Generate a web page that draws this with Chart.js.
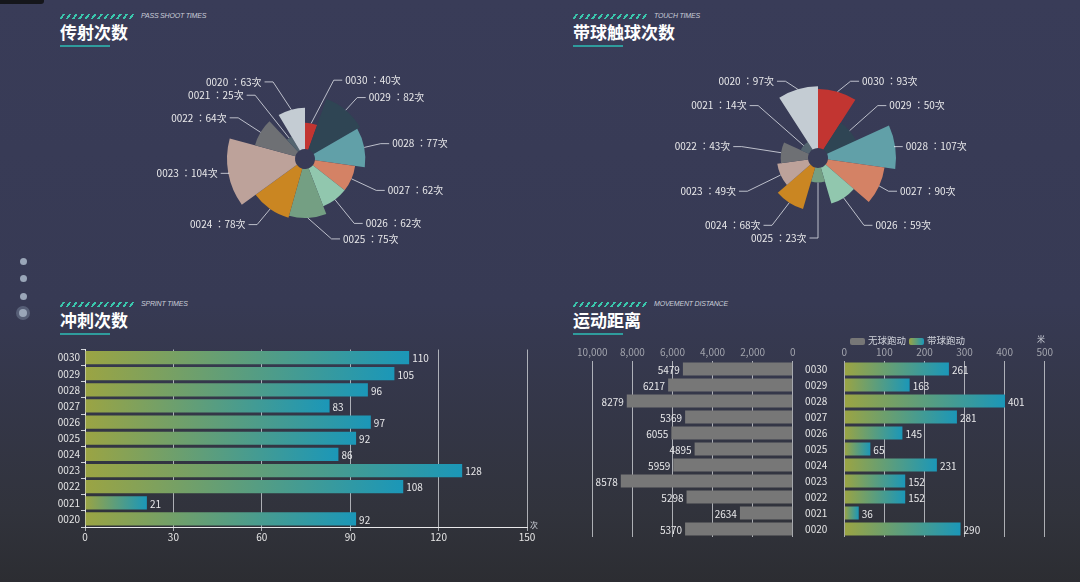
<!DOCTYPE html>
<html>
<head>
<meta charset="utf-8">
<script src="https://cdn.jsdelivr.net/npm/chart.js@4.4.1/dist/chart.umd.min.js"></script>
<style>
  html, body { margin: 0; padding: 0; }
  body {
    width: 1080px; height: 582px; overflow: hidden; position: relative;
    background: linear-gradient(to bottom, #393c58 0%, #373a54 52%, #31333c 88%, #2c2d32 100%);
    font-family: "Noto Sans CJK SC", "Noto Sans", sans-serif;
  }
  canvas { position: absolute; }
  .corner { position: absolute; left: 0; top: 0; width: 44px; height: 4px; background: #15161b; border-bottom-right-radius: 3px; }
  .head { position: absolute; width: 220px; height: 40px; }
  .stripes {
    position: absolute; left: 1px; top: 0; width: 75px; height: 5px; transform: skewX(-35deg);
    background: repeating-linear-gradient(90deg, #3ac6ac 0 2.4px, transparent 2.4px 6.3px);
  }
  .en { position: absolute; left: 81px; top: -4px; font: italic 7px "Liberation Sans", sans-serif; color: #c9cdd8; line-height: 12px; white-space: nowrap; letter-spacing: -0.2px; }
  .title { position: absolute; left: 0; top: 8px; font-weight: bold; font-size: 17px; line-height: 20px; color: #fff; white-space: nowrap; }
  .uline { position: absolute; left: 0; top: 31px; width: 50px; height: 1.5px; background: #2f9c9d; }
  .dot { position: absolute; width: 7px; height: 7px; border-radius: 50%; background: #9aa6b8; }
  .dot.on { width: 8px; height: 8px; box-shadow: 0 0 0 3px rgba(150,165,185,0.35); }
  .legend { position: absolute; top: 333px; font-size: 9.5px; line-height: 14px; color: #cfd2da; white-space: nowrap; }
  .legend i { display: inline-block; width: 15px; height: 7px; border-radius: 2px; vertical-align: -0.5px; margin-right: 3px; }
  .unit { position: absolute; font-size: 8px; line-height: 10px; color: #cfd2da; }
</style>
</head>
<body>
<div class="corner"></div>

<div class="head" style="left:60px;top:14px"><div class="stripes"></div><div class="en">PASS SHOOT TIMES</div><div class="title">传射次数</div><div class="uline"></div></div>
<div class="head" style="left:573px;top:14px"><div class="stripes"></div><div class="en">TOUCH TIMES</div><div class="title">带球触球次数</div><div class="uline"></div></div>
<div class="head" style="left:60px;top:302px"><div class="stripes"></div><div class="en">SPRINT TIMES</div><div class="title">冲刺次数</div><div class="uline"></div></div>
<div class="head" style="left:573px;top:302px"><div class="stripes"></div><div class="en">MOVEMENT DISTANCE</div><div class="title">运动距离</div><div class="uline"></div></div>

<div class="dot" style="left:20px;top:258px"></div>
<div class="dot" style="left:20px;top:275px"></div>
<div class="dot" style="left:20px;top:293px"></div>
<div class="dot on" style="left:19px;top:309px"></div>

<canvas id="passShoot" width="400" height="200" style="left:105px;top:59px"></canvas>
<canvas id="touch" width="400" height="200" style="left:618px;top:58px"></canvas>
<canvas id="sprint" width="510" height="210" style="left:40px;top:340px"></canvas>
<canvas id="runFree" width="240" height="215" style="left:560px;top:330px"></canvas>
<canvas id="runBall" width="270" height="215" style="left:800px;top:330px"></canvas>

<div class="legend" style="left:850px"><i style="background:#777777"></i>无球跑动</div>
<div class="legend" style="left:909px"><i style="background:linear-gradient(90deg,#9ba443,#1b97b8)"></i>带球跑动</div>
<div class="unit" style="left:1037px;top:334px">米</div>
<div class="unit" style="left:530px;top:520px">次</div>

<script>
// 球员号码（上から下、玫瑰图は時計回り）
const players = ['0030', '0029', '0028', '0027', '0026', '0025', '0024', '0023', '0022', '0021', '0020'];

const passShootTimes = [40, 82, 77, 62, 62, 75, 78, 104, 64, 25, 63];
const touchTimes = [93, 50, 107, 90, 59, 23, 68, 49, 43, 14, 97];
const sprintTimes = [110, 105, 96, 83, 97, 92, 86, 128, 108, 21, 92];
const freeRunDistance = [5479, 6217, 8279, 5369, 6055, 4895, 5959, 8578, 5298, 2634, 5370];
const ballRunDistance = [261, 163, 401, 281, 145, 65, 231, 152, 152, 36, 290];

const sprintTicks = { min: 0, max: 150, step: 30 };
const freeRunTicks = { min: 0, max: 10000, step: 2000 };
const ballRunTicks = { min: 0, max: 500, step: 100 };

const roseColors = ['#c23531', '#2f4554', '#61a0a8', '#d48265', '#91c7ae', '#749f83',
  '#ca8622', '#bda29a', '#6e7074', '#546570', '#c4ccd3'];

const OLIVE = '#9ba443';
const TEAL = '#1b97b8';
const GRID = 'rgba(215,217,222,0.75)';
const ROSE_R = 78;     // 玫瑰图の外半径
const ROSE_HOLE = 10;  // 中心の穴
const LINE1 = 2, LINE2 = 8.5, GAP = 3;

Chart.defaults.font.family = '"Noto Sans CJK SC", "Noto Sans", sans-serif';
Chart.defaults.font.size = 10;
Chart.defaults.color = '#e4e4e4';

// 半径を値に比例させる（ドーナツ）／穴をあける（polarArea）
const rosePlugin = {
  id: 'rose',
  afterDatasetsUpdate(chart) {
    const meta = chart.getDatasetMeta(0);
    const values = chart.data.datasets[0].data;
    const max = Math.max(...values);
    meta.data.forEach((arc, i) => {
      if (chart.config.type === 'doughnut') {
        const R = meta.controller.outerRadius;
        arc.outerRadius = arc.innerRadius + (R - arc.innerRadius) * values[i] / max;
      } else {
        arc.innerRadius = ROSE_HOLE;
      }
    });
  }
};

// 引き出し線つきラベル
const roseLabels = {
  id: 'roseLabels',
  afterDatasetsDraw(chart) {
    const meta = chart.getDatasetMeta(0);
    const values = chart.data.datasets[0].data;
    const names = chart.data.labels;
    const R = chart.config.type === 'doughnut' ? meta.controller.outerRadius : chart.scales.r.drawingArea;
    const L = R + LINE1;
    const D = L + LINE2;
    const c = chart.ctx;
    c.save();
    c.font = '10px "Noto Sans CJK TC"';
    c.textBaseline = 'middle';
    c.strokeStyle = 'rgba(222,225,232,0.8)';
    c.fillStyle = '#e8e8ea';
    c.lineWidth = 1;
    meta.data.forEach((arc, i) => {
      const mid = (arc.startAngle + arc.endAngle) / 2;
      const dx = Math.cos(mid), dy = Math.sin(mid);
      const side = dx > 1e-3 ? 1 : -1;
      const cx = arc.x, cy = arc.y;
      const y = cy + dy * L;
      const off = Math.abs(y - cy);
      const delta = off < L ? Math.sqrt(D * D - off * off) : Math.abs(dx * L + side * (LINE2 + GAP));
      const tx = cx + side * delta;
      const p2 = tx - side * GAP;
      const p1 = p2 - side * LINE2;
      c.beginPath();
      c.moveTo(cx + dx * arc.outerRadius, cy + dy * arc.outerRadius);
      c.lineTo(p1, y);
      c.lineTo(p2, y);
      c.stroke();
      c.textAlign = side > 0 ? 'left' : 'right';
      c.fillText(names[i] + ' ：' + values[i] + '次', tx, y);
    });
    c.restore();
  }
};

// 棒の先に数値
const barValues = {
  id: 'barValues',
  afterDatasetsDraw(chart) {
    const c = chart.ctx;
    c.save();
    c.font = '10px "Noto Sans CJK SC"';
    c.textBaseline = 'middle';
    c.fillStyle = '#e8e8ea';
    chart.data.datasets.forEach((ds, di) => {
      chart.getDatasetMeta(di).data.forEach((bar, i) => {
        const toLeft = bar.x < bar.base;
        c.textAlign = toLeft ? 'right' : 'left';
        c.fillText(ds.data[i], bar.x + (toLeft ? -3 : 3), bar.y + 1);
      });
    });
    c.restore();
  }
};

function barGradient(context) {
  const chart = context.chart;
  const x = chart.scales.x;
  if (!x || !chart.chartArea || context.raw === undefined) return OLIVE;
  const x0 = x.getPixelForValue(0);
  const x1 = x.getPixelForValue(context.raw);
  if (!isFinite(x0) || !isFinite(x1) || x0 === x1) return OLIVE;
  const g = chart.ctx.createLinearGradient(x0, 0, x1, 0);
  g.addColorStop(0, OLIVE);
  g.addColorStop(1, TEAL);
  return g;
}

const quiet = { legend: { display: false }, tooltip: { enabled: false } };
const squarePad = { left: 200 - ROSE_R, right: 200 - ROSE_R, top: 100 - ROSE_R, bottom: 100 - ROSE_R };

document.addEventListener('DOMContentLoaded', () => {
  // 传射次数（角度・半径とも値に比例）
  new Chart(document.getElementById('passShoot'), {
    type: 'doughnut',
    data: {
      labels: players,
      datasets: [{ data: passShootTimes, backgroundColor: roseColors, borderWidth: 0 }],
    },
    options: {
      responsive: false, animation: false, cutout: ROSE_HOLE,
      layout: { padding: squarePad },
      plugins: quiet,
    },
    plugins: [rosePlugin, roseLabels],
  });

  // 带球触球次数（角度は等分、半径は値に比例）
  const touchMax = Math.max(...touchTimes);
  new Chart(document.getElementById('touch'), {
    type: 'polarArea',
    data: {
      labels: players,
      datasets: [{ data: touchTimes, backgroundColor: roseColors, borderWidth: 0 }],
    },
    options: {
      responsive: false, animation: false,
      layout: { padding: squarePad },
      plugins: quiet,
      scales: {
        r: {
          display: false,
          min: -touchMax * ROSE_HOLE / (ROSE_R - ROSE_HOLE),
          max: touchMax,
        },
      },
    },
    plugins: [rosePlugin, roseLabels],
  });

  // 冲刺次数
  new Chart(document.getElementById('sprint'), {
    type: 'bar',
    data: {
      labels: players,
      datasets: [{ data: sprintTimes, backgroundColor: barGradient, barPercentage: 0.82, categoryPercentage: 1 }],
    },
    options: {
      indexAxis: 'y', responsive: false, animation: false,
      layout: { padding: { top: 9.5, right: 23 } },
      plugins: quiet,
      scales: {
        x: {
          min: sprintTicks.min, max: sprintTicks.max,
          ticks: { stepSize: sprintTicks.step, color: '#e6e6e6', padding: 0 },
          grid: { color: GRID, tickLength: 4 },
          border: { color: '#e8e8ea' },
          afterFit: (s) => { s.height = 23; },
        },
        y: {
          ticks: { color: '#e6e6e6', padding: 1, autoSkip: false },
          grid: { drawOnChartArea: false, color: '#d0d2d8', tickLength: 4 },
          border: { color: '#e8e8ea' },
          afterFit: (s) => { s.width = 45; s.paddingTop = 0; s.paddingBottom = 0; },
        },
      },
    },
    plugins: [barValues],
  });

  // 运动距离：无球跑动（左向き）
  new Chart(document.getElementById('runFree'), {
    type: 'bar',
    data: {
      labels: players,
      datasets: [{ label: '无球跑动', data: freeRunDistance, backgroundColor: '#777777', barPercentage: 0.8, categoryPercentage: 1 }],
    },
    options: {
      indexAxis: 'y', responsive: false, animation: false,
      layout: { padding: { left: 32.3, right: 7.3, top: 0, bottom: 8 } },
      plugins: quiet,
      scales: {
        x: {
          position: 'top', reverse: true,
          min: freeRunTicks.min, max: freeRunTicks.max,
          ticks: { stepSize: freeRunTicks.step, color: '#a2a4ad', padding: 3 },
          grid: { color: GRID, drawTicks: false },
          border: { display: false },
          afterFit: (s) => { s.height = 31; },
        },
        y: { display: false },
      },
    },
    plugins: [barValues],
  });

  // 运动距离：带球跑动（右向き）
  new Chart(document.getElementById('runBall'), {
    type: 'bar',
    data: {
      labels: players,
      datasets: [{ label: '带球跑动', data: ballRunDistance, backgroundColor: barGradient, barPercentage: 0.8, categoryPercentage: 1 }],
    },
    options: {
      indexAxis: 'y', responsive: false, animation: false,
      layout: { padding: { left: 0, right: 25.3, top: 0, bottom: 8 } },
      plugins: quiet,
      scales: {
        x: {
          position: 'top',
          min: ballRunTicks.min, max: ballRunTicks.max,
          ticks: { stepSize: ballRunTicks.step, color: '#a2a4ad', padding: 3 },
          grid: { color: GRID, drawTicks: false },
          border: { display: false },
          afterFit: (s) => { s.height = 31; },
        },
        y: {
          ticks: { color: '#e6e6e6', padding: 17, autoSkip: false },
          grid: { display: false, drawTicks: false },
          border: { display: false },
          afterFit: (s) => { s.width = 44.3; s.paddingTop = 0; s.paddingBottom = 0; },
        },
      },
    },
    plugins: [barValues],
  });
});
</script>
</body>
</html>
